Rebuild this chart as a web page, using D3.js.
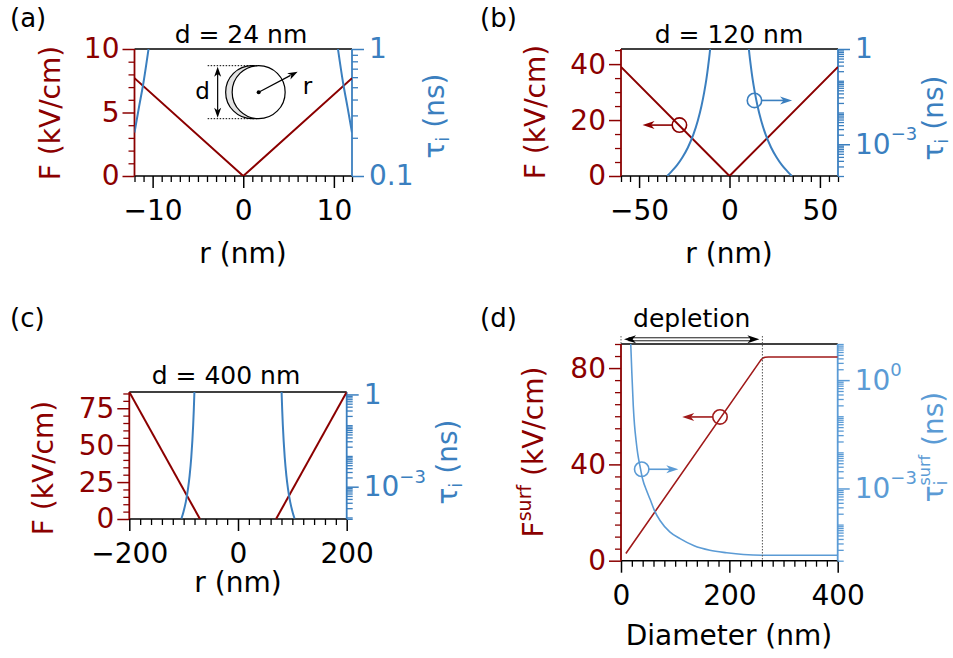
<!DOCTYPE html>
<html>
<head>
<meta charset="utf-8">
<script src="https://cdn.jsdelivr.net/npm/d3@7"></script>
<style>
  body { margin: 0; background: #fff; }
  text { font-family: "DejaVu Sans", sans-serif; }
</style>
</head>
<body>
<div id="chart"></div>
<script>
const W = 953, H = 658;
const RED = "#8b0000", BLUE = "#3b7fbf";
const RED_D = "#a01a1a", BLUE_D = "#5b9bd5";
const FS_TICK = 28, FS_LABEL = 28, FS_TITLE = 25;

// ---------- data: panel (a), d = 24 nm ----------
const rA = [-12, 0, 12];
const fieldA = [7.7, 0, 7.7];
const tauA_rLeft = [-12, -11.5, -11, -10.45];
const tauA_left = [0.22, 0.35, 0.55, 1.0];
const tauA_rRight = [10.45, 11, 11.5, 12];
const tauA_right = [1.0, 0.55, 0.35, 0.22];

// ---------- data: panel (b), d = 120 nm ----------
const rB = [-60, 0, 60];
const fieldB = [39, 0, 39];
const tauB_rLeft = [-34.5, -32, -29, -26, -23, -20, -17.5, -15.5, -14, -12.8, -11.8, -11.0, -10.7];
const tauB_left = [1.0e-4, 1.4e-4, 2.2e-4, 3.9e-4, 7.9e-4, 2.0e-3, 5.6e-3, 1.6e-2, 4.3e-2, 0.11, 0.29, 0.69, 1.0];
const tauB_rRight = [10.7, 11.0, 11.8, 12.8, 14, 15.5, 17.5, 20, 23, 26, 29, 32, 34.5];
const tauB_right = [1.0, 0.69, 0.29, 0.11, 4.3e-2, 1.6e-2, 5.6e-3, 2.0e-3, 7.9e-4, 3.9e-4, 2.2e-4, 1.4e-4, 1.0e-4];

// ---------- data: panel (c), d = 400 nm ----------
const rC_left = [-200, -70];
const fieldC_left = [86, 0];
const rC_right = [70, 200];
const fieldC_right = [0, 86];
const tauC_rLeft = [-104, -100, -96, -92, -89, -86, -84, -82.5, -81.3, -80.2];
const tauC_left = [9.2e-5, 1.6e-4, 3.2e-4, 8.5e-4, 2.3e-3, 8.9e-3, 3.1e-2, 0.10, 0.32, 1.2];
const tauC_rRight = [80.2, 81.3, 82.5, 84, 86, 89, 92, 96, 100, 104];
const tauC_right = [1.2, 0.32, 0.10, 3.1e-2, 8.9e-3, 2.3e-3, 8.5e-4, 3.2e-4, 1.6e-4, 9.2e-5];

// ---------- data: panel (d), surface field vs diameter ----------
const diamF = [9, 258, 262, 266, 272, 400];
const fieldSurf = [3, 83.3, 84.2, 84.5, 84.6, 84.6];
const diamTau = [18, 20, 22.7, 25, 27.7, 31, 35, 40, 47, 53.5, 62, 72, 90, 109, 135, 164, 195, 226, 260, 400];
const tauSurf = [10, 1.6, 0.19, 0.056, 0.022, 8.9e-3, 4.2e-3, 1.8e-3, 8.9e-4, 5.1e-4, 2.4e-4, 1.3e-4,
                 6.3e-5, 4.1e-5, 2.6e-5, 1.95e-5, 1.66e-5, 1.48e-5, 1.41e-5, 1.41e-5];
const depletionEdge = 261;

// tick labels
const ticksA = {x: [-10, 0, 10], yL: [0, 5, 10], yR: [0.1, 1]};
const ticksB = {x: [-50, 0, 50], yL: [0, 20, 40], yR: [1e-3, 1]};
const ticksC = {x: [-200, 0, 200], yL: [0, 25, 50, 75], yR: [1e-3, 1]};
const ticksD = {x: [0, 200, 400], yL: [0, 40, 80], yR: [1e-3, 1]};

const svg = d3.select("#chart").append("svg")
    .attr("width", W).attr("height", H);

function logMinor(lo, hi, majors) {
    const out = [];
    for (let e = Math.floor(Math.log10(lo)); e <= Math.ceil(Math.log10(hi)); e++) {
        for (let k = 1; k <= 9; k++) {
            const v = k * Math.pow(10, e);
            if (v >= lo * 0.999 && v <= hi * 1.001 && !majors.some(m => Math.abs(m - v) / v < 1e-6)) out.push(v);
        }
    }
    return out;
}

function superLabel(sel, fmt) {
    sel.selectAll(".tick text").each(function(d) {
        const s = fmt(d);
        const t = d3.select(this);
        if (s.indexOf("^") >= 0) {
            const parts = s.split("^");
            t.text(parts[0]);
            t.append("tspan").attr("dy", -13.5).attr("font-size", 18)
                .text(parts[1].replace("-", "\u2212"));
        } else {
            t.text(s.replace("-", "\u2212"));
        }
    });
}

function makePanel(o) {
    const g = svg.append("g");
    const x = d3.scaleLinear().domain(o.xDom).range([o.x0, o.x1]);
    const yL = d3.scaleLinear().domain(o.yLDom).range([o.y1, o.y0]);
    const yR = d3.scaleLog().domain(o.yRDom).range([o.y1, o.y0]);
    const clipId = "clip-" + o.name;
    svg.append("clipPath").attr("id", clipId).append("rect")
        .attr("x", o.x0).attr("y", o.y0).attr("width", o.x1 - o.x0).attr("height", o.y1 - o.y0);

    function axis(fn, scale, major, minor, color, tr, fmt, pad) {
        const gm = g.append("g").attr("transform", tr).attr("color", color)
            .call(fn(scale).tickValues(minor).tickSize(6).tickFormat(""));
        gm.select(".domain").remove();
        gm.selectAll("line").attr("stroke-width", 1.3);
        const gM = g.append("g").attr("transform", tr).attr("color", color)
            .call(fn(scale).tickValues(major).tickSize(12).tickPadding(pad).tickFormat(fmt));
        gM.attr("font-size", FS_TICK).attr("font-family", "DejaVu Sans");
        gM.select(".domain").remove();
        gM.selectAll("line").attr("stroke-width", 1.5);
        return gM;
    }

    axis(d3.axisBottom, x, o.ticks.x, o.xMinor.filter(v => o.ticks.x.indexOf(v) < 0), "#000",
        `translate(0,${o.y1})`, d => String(d).replace("-", "\u2212"), 12);
    axis(d3.axisLeft, yL, o.ticks.yL, o.yLMinor.filter(v => o.ticks.yL.indexOf(v) < 0), o.cL,
        `translate(${o.x0},0)`, d => String(d), 3);
    const gR = axis(d3.axisRight, yR, o.ticks.yR, logMinor(o.yRDom[0], o.yRDom[1], o.ticks.yR), o.cR,
        `translate(${o.x1},0)`, d => o.fmtR(d), 5);
    superLabel(gR, o.fmtR);

    // spines
    g.append("line").attr("x1", o.x0).attr("x2", o.x1).attr("y1", o.y0).attr("y2", o.y0).attr("stroke", "#000").attr("stroke-width", 1.5);
    g.append("line").attr("x1", o.x0).attr("x2", o.x1).attr("y1", o.y1).attr("y2", o.y1).attr("stroke", "#000").attr("stroke-width", 1.5);
    g.append("line").attr("x1", o.x0).attr("x2", o.x0).attr("y1", o.y0).attr("y2", o.y1).attr("stroke", o.cL).attr("stroke-width", 1.8);
    g.append("line").attr("x1", o.x1).attr("x2", o.x1).attr("y1", o.y0).attr("y2", o.y1).attr("stroke", o.cR).attr("stroke-width", 1.8);

    return {g, x, yL, yR, clip: `url(#${clipId})`};
}

function drawLine(p, xs, ys, yScale, color, width, curve) {
    const pts = xs.map((v, i) => [v, ys[i]]);
    p.g.append("path").datum(pts)
        .attr("clip-path", p.clip)
        .attr("fill", "none").attr("stroke", color).attr("stroke-width", width)
        .attr("stroke-linejoin", "round")
        .attr("d", d3.line().x(d => p.x(d[0])).y(d => yScale(d[1])).curve(curve || d3.curveLinear));
}

function arrowHead(g, tx, ty, angle, color, len, wid) {
    len = len || 12; wid = wid || 4.5;
    g.append("path")
        .attr("d", `M0,0 L${-len},${-wid} L${-len * 0.72},0 L${-len},${wid} Z`)
        .attr("transform", `translate(${tx},${ty}) rotate(${angle})`)
        .attr("fill", color);
}

function pointer(g, cx, cy, tipX, color, width) {
    g.append("circle").attr("cx", cx).attr("cy", cy).attr("r", 7.2)
        .attr("fill", "none").attr("stroke", color).attr("stroke-width", width);
    const dir = tipX > cx ? 1 : -1;
    g.append("line").attr("x1", cx + dir * 7.2).attr("x2", tipX - dir * 8).attr("y1", cy).attr("y2", cy)
        .attr("stroke", color).attr("stroke-width", width);
    arrowHead(g, tipX, cy, dir > 0 ? 0 : 180, color, 12, 4);
}

function yLabelLeft(bx, cy, build, color) {
    const t = svg.append("text").attr("transform", `translate(${bx},${cy}) rotate(-90)`)
        .attr("text-anchor", "middle").attr("font-size", FS_LABEL).attr("fill", color);
    build(t);
}

function tauLabel(t, surf) {
    t.append("tspan").text("\u03c4");
    if (surf) {
        t.append("tspan").attr("font-size", 17).attr("dy", 4).text("i");
        t.append("tspan").attr("font-size", 16).attr("dx", -5).attr("dy", -17).text("surf");
        t.append("tspan").attr("dy", 13).text(" (ns)");
    } else {
        t.append("tspan").attr("font-size", 18).attr("dy", 5).text("i");
        t.append("tspan").attr("dy", -5).text(" (ns)");
    }
}

function text(x, y, s, size, anchor, color) {
    return svg.append("text").attr("x", x).attr("y", y).attr("font-size", size)
        .attr("text-anchor", anchor || "middle").attr("fill", color || "#000").text(s);
}

// ---------- panel (a) ----------
const pA = makePanel({
    name: "a", x0: 134.5, x1: 352, y0: 49, y1: 176,
    xDom: [-12, 12], yLDom: [0, 10], yRDom: [0.1, 1],
    ticks: ticksA, xMinor: d3.range(-12, 13, 1), yLMinor: d3.range(0, 11, 1),
    cL: RED, cR: BLUE, fmtR: d => d === 1 ? "1" : "0.1"
});
drawLine(pA, rA, fieldA, pA.yL, RED, 2);
drawLine(pA, tauA_rLeft, tauA_left, pA.yR, BLUE, 2, d3.curveMonotoneX);
drawLine(pA, tauA_rRight, tauA_right, pA.yR, BLUE, 2, d3.curveMonotoneX);

// inset sketch
{
    const cx = pA.x(1.7), cy = pA.yL(6.6), R = 26.5;
    const g = pA.g.append("g");
    g.append("circle").attr("cx", cx - 6.5).attr("cy", cy).attr("r", R).attr("fill", "#e3e3e3").attr("stroke", "#000").attr("stroke-width", 1.2);
    g.append("circle").attr("cx", cx).attr("cy", cy).attr("r", R).attr("fill", "#fff").attr("stroke", "#000").attr("stroke-width", 1.2);
    [cy - R, cy + R].forEach(yy => g.append("line").attr("x1", cx - 51).attr("x2", cx).attr("y1", yy).attr("y2", yy)
        .attr("stroke", "#000").attr("stroke-width", 1).attr("stroke-dasharray", "1.5,1.5"));
    const ax = cx - 41;
    g.append("line").attr("x1", ax).attr("x2", ax).attr("y1", cy - R + 8).attr("y2", cy + R - 8).attr("stroke", "#000").attr("stroke-width", 1.2);
    arrowHead(g, ax, cy - R + 1, -90, "#000", 10, 3.5);
    arrowHead(g, ax, cy + R - 1, 90, "#000", 10, 3.5);
    g.append("circle").attr("cx", cx).attr("cy", cy).attr("r", 2).attr("fill", "#000");
    const tx = cx + 39, ty = cy - 20.5;
    const ang = Math.atan2(ty - cy, tx - cx) * 180 / Math.PI;
    g.append("line").attr("x1", cx).attr("y1", cy).attr("x2", tx - 8 * Math.cos(ang * Math.PI / 180)).attr("y2", ty - 8 * Math.sin(ang * Math.PI / 180))
        .attr("stroke", "#000").attr("stroke-width", 1.2);
    arrowHead(g, tx, ty, ang, "#000", 10, 3.5);
    text(ax - 15, cy + 7, "d", 23);
    text(tx + 5, cy + 2, "r", 23, "start");
}

// ---------- panel (b) ----------
const pB = makePanel({
    name: "b", x0: 621, x1: 838, y0: 49, y1: 176,
    xDom: [-60, 60], yLDom: [0, 45.4], yRDom: [1e-4, 1],
    ticks: ticksB, xMinor: d3.range(-60, 61, 5), yLMinor: d3.range(0, 46, 5),
    cL: RED, cR: BLUE, fmtR: d => d === 1 ? "1" : "10^-3"
});
drawLine(pB, rB, fieldB, pB.yL, RED, 2);
drawLine(pB, tauB_rLeft, tauB_left, pB.yR, BLUE, 2, d3.curveMonotoneX);
drawLine(pB, tauB_rRight, tauB_right, pB.yR, BLUE, 2, d3.curveMonotoneX);
pointer(pB.g, pB.x(-27.7), pB.yL(18.2), pB.x(-48.1), RED, 1.6);
pointer(pB.g, pB.x(13.8), pB.yR(0.024), pB.x(34.6), BLUE, 1.6);

// ---------- panel (c) ----------
const pC = makePanel({
    name: "c", x0: 129.3, x1: 346.7, y0: 392, y1: 519,
    xDom: [-200, 200], yLDom: [0, 86], yRDom: [8.9e-5, 1.2],
    ticks: ticksC, xMinor: d3.range(-200, 201, 20), yLMinor: d3.range(0, 86, 5),
    cL: RED, cR: BLUE, fmtR: d => d === 1 ? "1" : "10^-3"
});
drawLine(pC, rC_left, fieldC_left, pC.yL, RED, 2);
drawLine(pC, rC_right, fieldC_right, pC.yL, RED, 2);
drawLine(pC, tauC_rLeft, tauC_left, pC.yR, BLUE, 2, d3.curveMonotoneX);
drawLine(pC, tauC_rRight, tauC_right, pC.yR, BLUE, 2, d3.curveMonotoneX);

// ---------- panel (d) ----------
const pD = makePanel({
    name: "d", x0: 621, x1: 837.7, y0: 344, y1: 560.7,
    xDom: [0, 400], yLDom: [0, 90], yRDom: [1e-5, 10],
    ticks: ticksD, xMinor: d3.range(0, 401, 20), yLMinor: d3.range(0, 91, 5),
    cL: RED, cR: BLUE_D, fmtR: d => d === 1 ? "10^0" : "10^-3"
});
drawLine(pD, diamF, fieldSurf, pD.yL, RED_D, 1.6);
drawLine(pD, diamTau, tauSurf, pD.yR, BLUE_D, 1.6, d3.curveMonotoneX);
pointer(pD.g, pD.x(182.7), pD.yL(59.7), pD.x(113), RED_D, 1.6);
pointer(pD.g, pD.x(38.2), pD.yR(0.0034), pD.x(105.8), BLUE_D, 1.6);
// depletion marker
{
    const g = pD.g;
    const xe = pD.x(depletionEdge), x0 = pD.x(0), ya = 339.3;
    g.append("line").attr("x1", x0).attr("x2", x0).attr("y1", 336).attr("y2", 344)
        .attr("stroke", "#666").attr("stroke-width", 1).attr("stroke-dasharray", "1.5,1.5");
    g.append("line").attr("x1", xe).attr("x2", xe).attr("y1", 336).attr("y2", 560.7)
        .attr("stroke", "#555").attr("stroke-width", 1).attr("stroke-dasharray", "1.5,1.5");
    g.append("rect").attr("x", x0 + 8).attr("y", ya - 1.5).attr("width", xe - x0 - 20).attr("height", 3)
        .attr("fill", "#fff").attr("stroke", "#000").attr("stroke-width", 0.9);
    arrowHead(g, x0 + 3, ya, 180, "#000", 12, 4);
    arrowHead(g, xe - 3, ya, 0, "#000", 12, 4);
    text((x0 + xe) / 2, 327, "depletion", FS_TITLE);
}

// ---------- titles, panel letters ----------
text(241, 42.7, "d = 24 nm", FS_TITLE);
text(729, 42.7, "d = 120 nm", FS_TITLE);
text(226, 384, "d = 400 nm", FS_TITLE);
text(10, 27, "(a)", 26, "start");
text(480, 27, "(b)", 26, "start");
text(10, 326.5, "(c)", 26, "start");
text(480, 326.5, "(d)", 26, "start");

// ---------- axis labels ----------
text(243, 263, "r (nm)", FS_LABEL);
text(729, 263, "r (nm)", FS_LABEL);
text(238, 592, "r (nm)", FS_LABEL);
text(729, 645, "Diameter (nm)", FS_LABEL);

yLabelLeft(60, 113, t => t.text("F (kV/cm)"), RED);
yLabelLeft(545, 112, t => t.text("F (kV/cm)"), RED);
yLabelLeft(53, 468, t => t.text("F (kV/cm)"), RED);
yLabelLeft(543, 452, t => {
    t.append("tspan").text("F");
    t.append("tspan").attr("font-size", 19).attr("dy", -12).text("surf");
    t.append("tspan").attr("dy", 12).text(" (kV/cm)");
}, RED);

yLabelLeft(444, 116, t => tauLabel(t, false), BLUE);
yLabelLeft(943, 118, t => tauLabel(t, false), BLUE);
yLabelLeft(457, 462, t => tauLabel(t, false), BLUE);
yLabelLeft(943, 447, t => tauLabel(t, true), BLUE_D);
</script>
</body>
</html>
